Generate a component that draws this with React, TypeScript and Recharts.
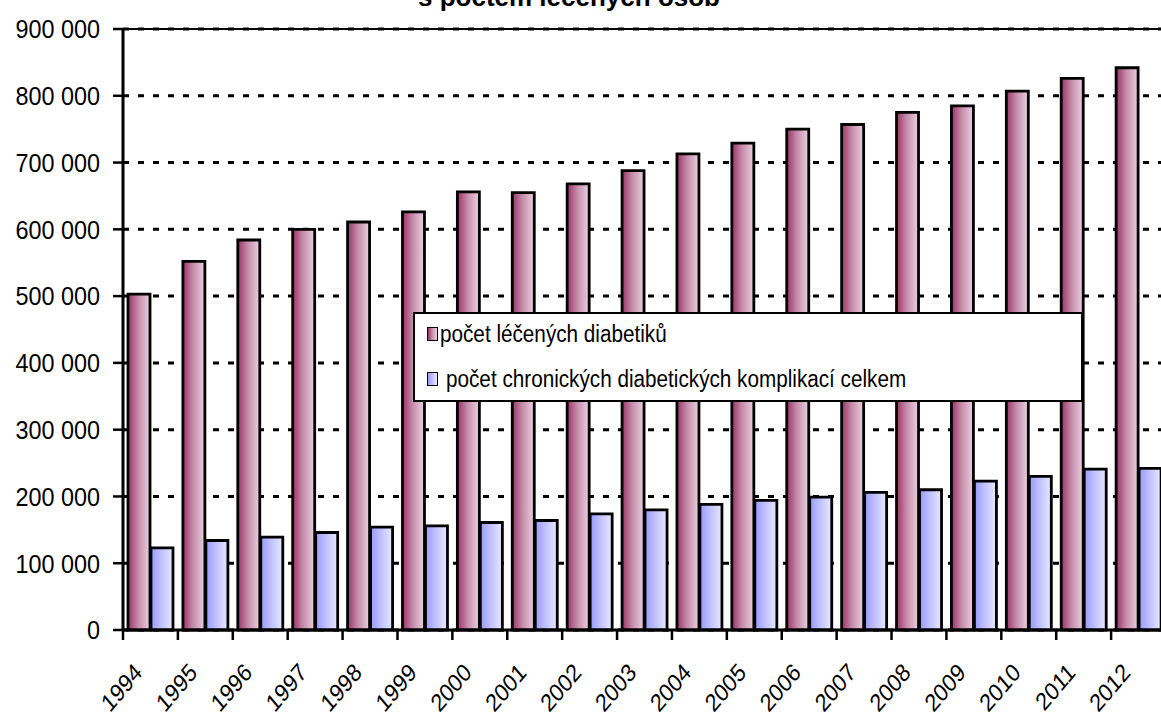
import React from "react";
import { BarChart, Bar, XAxis, YAxis, CartesianGrid, Legend, ReferenceLine } from "recharts";

const years = [
  "1994", "1995", "1996", "1997", "1998", "1999", "2000", "2001", "2002", "2003",
  "2004", "2005", "2006", "2007", "2008", "2009", "2010", "2011", "2012",
];
const treatedDiabetics = [
  503000, 552000, 584000, 600000, 611000, 626000, 656000, 655000, 668000, 688000,
  713000, 729000, 750000, 757000, 775000, 785000, 807000, 826000, 842000,
];
const chronicComplications = [
  123000, 134000, 139000, 146000, 154000, 156000, 161000, 164000, 174000, 180000,
  188000, 194000, 199000, 206000, 210000, 223000, 230000, 241000, 242000,
];
const yTicks = [0, 100000, 200000, 300000, 400000, 500000, 600000, 700000, 800000, 900000];
const seriesNames = ["počet léčených diabetiků", "počet chronických diabetických komplikací celkem"];
const title = "s počtem léčených osob";

const data = years.map((year, i) => ({
  year,
  treated: treatedDiabetics[i],
  chronic: chronicComplications[i],
}));

const FONT = "'Liberation Sans', Arial, sans-serif";
const CHART_W = 1170;
const CHART_H = 716;
const MARGIN = { top: 29, right: 4, left: 0, bottom: 0 };
const Y_WIDTH = 123;

const formatThousands = (v: number) => String(v).replace(/\B(?=(\d{3})+(?!\d))/g, " ");

// the original picture is squeezed sideways, so texts get a narrower x scale
const YValueTick = (props: any) => {
  const { x, y, payload } = props;
  return (
    <text
      transform={`translate(${x} ${y}) scale(0.9 1)`}
      textAnchor="end"
      dy="0.36em"
      fontSize={26}
      fill="#000"
      fontFamily={FONT}
    >
      {formatThousands(payload.value)}
    </text>
  );
};

const YearTick = (props: any) => {
  const { x, y, payload, index } = props;
  const half = payload?.offset || (CHART_W - MARGIN.right - Y_WIDTH) / years.length / 2;
  const ax = x - 7;
  const ay = y + 44;
  return (
    <g>
      {index === 0 && (
        <line x1={x - half} x2={x - half} y1={y} y2={y + 10} stroke="#000" strokeWidth={2.5} />
      )}
      <line x1={x + half} x2={x + half} y1={y} y2={y + 10} stroke="#000" strokeWidth={2.5} />
      <text
        textAnchor="end"
        fontSize={25}
        fill="#000"
        fontFamily={FONT}
        transform={`translate(${ax} ${ay}) scale(0.85 1) rotate(-45)`}
      >
        {payload.value}
      </text>
    </g>
  );
};

const maroonBg = "linear-gradient(to right, #993366 0%, #c58aa8 45%, #ead2e2 100%)";
const blueBg = "linear-gradient(to right, #9999ff 0%, #bfbfff 45%, #e8e8ff 100%)";

const LegendBox = () => (
  <div
    style={{
      position: "relative",
      width: "100%",
      height: "100%",
      boxSizing: "border-box",
      border: "2px solid #000",
      background: "#fff",
      fontFamily: FONT,
      fontSize: 23,
      color: "#000",
    }}
  >
    {seriesNames.map((name, i) => (
      <div
        key={name}
        style={{
          position: "absolute",
          left: 12,
          top: i === 0 ? 7 : 52,
          height: 26,
          lineHeight: "26px",
          display: "flex",
          alignItems: "center",
          whiteSpace: "nowrap",
        }}
      >
        <span
          style={{
            display: "inline-block",
            width: 9,
            height: 12,
            border: "1.5px solid #000",
            background: i === 0 ? maroonBg : blueBg,
            marginRight: i === 0 ? 2 : 8,
          }}
        />
        <span style={{ display: "inline-block", transform: "scaleX(0.9)", transformOrigin: "left center" }}>
          {name}
        </span>
      </div>
    ))}
  </div>
);

export default function App() {
  return (
    <div
      style={{
        position: "absolute",
        left: 0,
        top: 0,
        width: 1161,
        height: 716,
        overflow: "hidden",
        background: "#fff",
        fontFamily: FONT,
      }}
    >
      <BarChart
        width={CHART_W}
        height={CHART_H}
        data={data}
        margin={MARGIN}
        barCategoryGap={5}
        barGap={1}
      >
        <defs>
          <linearGradient id="gradMaroon" x1="0" y1="0" x2="1" y2="0">
            <stop offset="0%" stopColor="#993366" />
            <stop offset="45%" stopColor="#c58aa8" />
            <stop offset="100%" stopColor="#ead2e2" />
          </linearGradient>
          <linearGradient id="gradBlue" x1="0" y1="0" x2="1" y2="0">
            <stop offset="0%" stopColor="#9999ff" />
            <stop offset="45%" stopColor="#bfbfff" />
            <stop offset="100%" stopColor="#e8e8ff" />
          </linearGradient>
        </defs>
        <CartesianGrid
          vertical={false}
          stroke="#000"
          strokeWidth={3}
          strokeDasharray="6 9"
        />
        <ReferenceLine y={900000} stroke="#000" strokeWidth={2} />
        <XAxis
          dataKey="year"
          interval={0}
          height={CHART_H - 630 - MARGIN.bottom}
          tickLine={false}
          tickSize={0}
          tickMargin={0}
          axisLine={{ stroke: "#000", strokeWidth: 3 }}
          tick={<YearTick />}
        />
        <YAxis
          width={Y_WIDTH}
          domain={[0, 900000]}
          ticks={yTicks}
          interval={0}
          tickSize={10}
          tickMargin={13}
          tickLine={{ stroke: "#000", strokeWidth: 2.5 }}
          axisLine={{ stroke: "#000", strokeWidth: 3 }}
          tick={<YValueTick />}
        />
        <Legend
          layout="vertical"
          align="center"
          verticalAlign="middle"
          wrapperStyle={{ left: 413, top: 312, width: 670, height: 90 }}
          content={<LegendBox />}
        />
        <Bar
          dataKey="treated"
          name={seriesNames[0]}
          fill="url(#gradMaroon)"
          stroke="#000"
          strokeWidth={2.8}
          isAnimationActive={false}
        />
        <Bar
          dataKey="chronic"
          name={seriesNames[1]}
          fill="url(#gradBlue)"
          stroke="#000"
          strokeWidth={2.8}
          isAnimationActive={false}
        />
      </BarChart>
      <svg
        width={1161}
        height={30}
        style={{ position: "absolute", left: 0, top: 0, pointerEvents: "none" }}
      >
        <text x={569} y={6} textAnchor="middle" fontSize={26} fontWeight="bold" fill="#000" fontFamily={FONT}>
          {title}
        </text>
      </svg>
    </div>
  );
}
